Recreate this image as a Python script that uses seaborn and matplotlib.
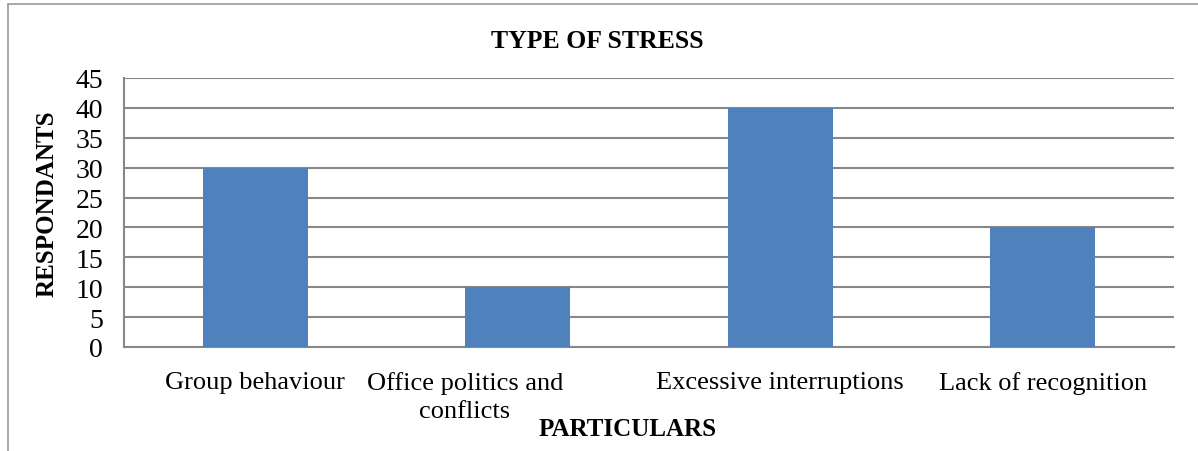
import matplotlib
matplotlib.use("Agg")
import matplotlib.pyplot as plt
import matplotlib.transforms as mtransforms
from matplotlib.lines import Line2D
import seaborn as sns
import pandas as pd

categories = ["Group behaviour", "Office politics and\nconflicts", "Excessive interruptions", "Lack of recognition"]
respondents = [30, 10, 40, 20]
yticks = [0, 5, 10, 15, 20, 25, 30, 35, 40, 45]

sns.set_style("white")
plt.rcParams['font.family'] = ['Liberation Serif', 'DejaVu Serif']
plt.rcParams['text.color'] = 'black'
plt.rcParams['xtick.labelcolor'] = 'black'
plt.rcParams['ytick.labelcolor'] = 'black'

df = pd.DataFrame({"cat": categories, "val": respondents})

fig = plt.figure(figsize=(11.98, 4.52), dpi=100)
ax = fig.add_axes([124/1198, 1-348/452, (1174-124)/1198, (348-79)/452])

grid_c = "#888888"
sns.barplot(data=df, x="cat", y="val", color="#4F81BD", width=0.4, saturation=1,
            linewidth=0, ax=ax, zorder=3)

ax.set_xlim(-0.5, len(categories) - 0.5)
ax.set_ylim(0, 45)
ax.set_yticks(yticks)
ax.yaxis.grid(True, color=grid_c, linewidth=1.5, zorder=0)
ax.set_axisbelow(True)
for s in ["top", "right"]:
    ax.spines[s].set_visible(False)
for s in ["left", "bottom"]:
    ax.spines[s].set_color(grid_c)
    ax.spines[s].set_linewidth(1.5)

ax.tick_params(axis="y", which="major", length=7, width=1.5, color=grid_c, labelsize=20, pad=8, labelcolor="black")
ax.tick_params(axis="x", which="major", length=0, labelsize=19, pad=17, labelcolor="black")
ax.set_xticks(range(len(categories)))
ax.set_xticklabels(categories, linespacing=1.35)
ax.set_xticks([i - 0.5 for i in range(len(categories) + 1)], minor=True)
ax.tick_params(axis="x", which="minor", length=6, width=1.5, color=grid_c)

lbl = ax.get_xticklabels()[1]
lbl.set_transform(lbl.get_transform() + mtransforms.ScaledTranslation(-53/100, 0, fig.dpi_scale_trans))

ax.set_xlabel("")
ax.set_ylabel("")
fig.text(597/1198, 1-42/452, "TYPE OF STRESS", ha="center", va="center", fontsize=18.5, fontweight="bold", color="black")
fig.text(628/1198, 1-430/452, "PARTICULARS", ha="center", va="center", fontsize=18, fontweight="bold", color="black")
fig.text(47/1198, 1-204/452, "RESPONDANTS", ha="center", va="center", fontsize=18, fontweight="bold", rotation=90, color="black")

# outer chart border (left and top)
fig.add_artist(Line2D([8/1198, 8/1198], [0, 1-5/452], transform=fig.transFigure, color="#999999", linewidth=1.2))
fig.add_artist(Line2D([8/1198, 1], [1-5/452, 1-5/452], transform=fig.transFigure, color="#999999", linewidth=1.2))

fig.savefig("out.png", dpi=100)
